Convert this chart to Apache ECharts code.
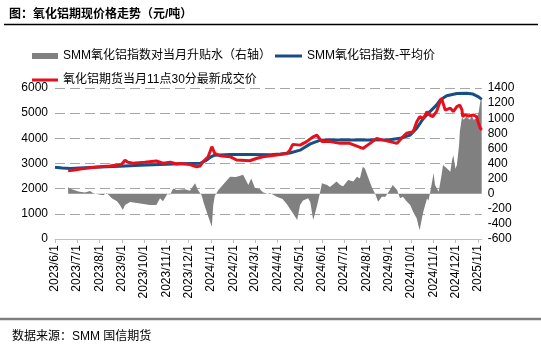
<!DOCTYPE html>
<html><head><meta charset="utf-8">
<script src="https://cdn.jsdelivr.net/npm/echarts@6/dist/echarts.min.js"></script>
<style>html,body{margin:0;padding:0;background:#fff}#c{width:541px;height:349px}</style>
</head><body><div id="c"></div>
<script>
// Axis range
const startDate = '2023/6/1';
const endDate = '2025/1/6';
const leftTicks = [0, 6000, 1000];
const rightTicks = [-600, 1400, 200];

const nameBasis = 'SMM氧化铝指数对当月升贴水（右轴）';
const nameIndex = 'SMM氧化铝指数-平均价';
const nameFut = '氧化铝期货当月11点30分最新成交价';

// SMM index average price
const indexDates = ['2023/6/1','2023/6/11','2023/6/22','2023/7/5','2023/8/2','2023/8/29','2023/9/26','2023/10/23','2023/11/19','2023/12/17','2023/12/24','2023/12/31','2024/1/6','2024/1/27','2024/2/23','2024/3/22','2024/4/5','2024/4/18','2024/5/2','2024/5/16','2024/5/29','2024/6/12','2024/7/9','2024/8/6','2024/9/2','2024/9/16','2024/9/30','2024/10/9','2024/10/18','2024/10/27','2024/11/5','2024/11/10','2024/11/19','2024/12/3','2024/12/16','2024/12/25','2025/1/1','2025/1/6'];
const indexValues = [2850,2820,2800,2820,2860,2890,2930,2960,2990,3010,3100,3250,3330,3360,3360,3350,3380,3420,3530,3780,3920,3930,3930,3930,3940,4000,4130,4400,4790,5060,5320,5520,5690,5780,5790,5760,5660,5550];

// Futures price at 11:30
const futDates = ['2023/6/19','2023/6/28','2023/7/8','2023/7/19','2023/8/2','2023/8/15','2023/8/31','2023/9/5','2023/9/9','2023/9/16','2023/10/2','2023/10/18','2023/10/27','2023/11/6','2023/11/15','2023/11/19','2023/12/3','2023/12/12','2023/12/17','2023/12/21','2023/12/28','2024/1/2','2024/1/6','2024/1/13','2024/1/27','2024/2/5','2024/2/23','2024/3/3','2024/3/12','2024/3/31','2024/4/14','2024/4/18','2024/4/22','2024/5/2','2024/5/11','2024/5/20','2024/5/25','2024/6/1','2024/6/12','2024/6/26','2024/7/9','2024/7/27','2024/8/6','2024/8/15','2024/8/24','2024/9/2','2024/9/12','2024/9/20','2024/9/25','2024/10/4','2024/10/9','2024/10/13','2024/10/18','2024/10/23','2024/10/27','2024/10/31','2024/11/5','2024/11/10','2024/11/12','2024/11/17','2024/11/24','2024/11/28','2024/12/3','2024/12/7','2024/12/10','2024/12/11','2024/12/14','2024/12/19','2024/12/21','2024/12/26','2024/12/30','2025/1/1','2025/1/4','2025/1/6'];
const futValues = [2710,2740,2790,2830,2870,2900,2960,3130,3050,3010,3050,3100,3010,3050,2980,3000,2960,2870,2900,3070,3270,3670,3400,3310,3270,3140,3110,3200,3270,3340,3400,3530,3760,3730,3870,4060,4130,3870,3870,3800,3800,3600,3800,4000,3930,3870,3800,4060,4200,4260,4660,4860,4790,5060,4920,4860,5060,5460,5590,5120,5200,5060,5260,5320,5120,4860,4930,4890,4860,4930,4860,4660,4400,4330];

// Basis: SMM index vs current-month contract (right axis)
const basisDates = ['2023/6/19','2023/6/24','2023/7/3','2023/7/12','2023/7/19','2023/7/23','2023/7/28','2023/8/6','2023/8/11','2023/8/18','2023/8/25','2023/8/29','2023/9/2','2023/9/5','2023/9/12','2023/9/26','2023/10/9','2023/10/18','2023/10/23','2023/10/27','2023/11/2','2023/11/6','2023/11/10','2023/11/15','2023/11/26','2023/12/3','2023/12/10','2023/12/14','2023/12/19','2023/12/22','2023/12/28','2024/1/2','2024/1/4','2024/1/6','2024/1/11','2024/1/17','2024/1/27','2024/2/4','2024/2/14','2024/2/21','2024/2/25','2024/3/1','2024/3/8','2024/3/12','2024/3/18','2024/3/22','2024/3/31','2024/4/8','2024/4/14','2024/4/18','2024/4/22','2024/4/28','2024/5/2','2024/5/6','2024/5/13','2024/5/16','2024/5/20','2024/5/25','2024/5/29','2024/6/1','2024/6/8','2024/6/12','2024/6/21','2024/6/26','2024/6/30','2024/7/7','2024/7/14','2024/7/19','2024/7/23','2024/7/27','2024/7/30','2024/8/3','2024/8/8','2024/8/13','2024/8/17','2024/8/22','2024/8/27','2024/9/2','2024/9/6','2024/9/12','2024/9/16','2024/9/20','2024/9/25','2024/9/30','2024/10/4','2024/10/9','2024/10/11','2024/10/13','2024/10/16','2024/10/18','2024/10/23','2024/10/25','2024/10/27','2024/10/30','2024/11/1','2024/11/3','2024/11/8','2024/11/12','2024/11/14','2024/11/19','2024/11/24','2024/11/26','2024/11/28','2024/12/1','2024/12/3','2024/12/5','2024/12/6','2024/12/7','2024/12/10','2024/12/12','2024/12/16','2024/12/21','2024/12/23','2024/12/26','2024/12/30','2025/1/2','2025/1/4','2025/1/6'];
const basisValues = [85,60,30,15,36,10,-5,-20,10,-61,-100,-150,-216,-150,-110,-130,-150,-150,-60,-100,-5,-10,70,50,60,40,137,50,-20,-125,-300,-437,-150,-30,50,115,225,220,250,115,200,78,60,20,0,10,-40,-70,-140,-200,-256,-348,-150,-90,-60,-110,-348,-170,0,137,115,90,160,115,100,181,160,225,200,358,330,225,95,-5,-106,-40,-40,48,115,50,-60,-40,-100,-150,-238,-327,-415,-480,-330,-240,-62,-90,0,159,270,115,25,248,380,336,292,424,512,330,380,556,645,821,1020,980,1020,980,1040,980,1000,1086,1219,1263];

// build daily category axis
function parse(s){const p=s.split('/').map(Number);return Date.UTC(p[0],p[1]-1,p[2]);}
function fmt(t){const d=new Date(t);return d.getUTCFullYear()+'/'+(d.getUTCMonth()+1)+'/'+d.getUTCDate();}
const cats=[];
for(let t=parse(startDate);t<=parse(endDate);t+=86400000) cats.push(fmt(t));
const idx={}; cats.forEach((c,i)=>idx[c]=i);
function toSeries(dates,vals){const a=new Array(cats.length).fill(null);dates.forEach((d,i)=>{a[idx[d]]=vals[i];});return a;}

const chart=echarts.init(document.getElementById('c'),null,{renderer:'canvas'});
const latin='"Liberation Sans", Arial, sans-serif';
const cjk='"Liberation Sans", "Noto Sans CJK SC", sans-serif';
const isFirst=(i,v)=>v.endsWith('/1');
const plain=v=>String(v);
chart.setOption({
  animation:false,
  backgroundColor:'#fff',
  title:[
    {text:'图：氧化铝期现价格走势（元/吨）',left:4,top:4,textStyle:{fontSize:12,fontWeight:'bold',color:'#000',fontFamily:cjk}},
    {text:'数据来源：SMM 国信期货',left:7,top:326,textStyle:{fontSize:12,fontWeight:'normal',color:'#000',fontFamily:cjk}}
  ],
  graphic:[
    {type:'line',shape:{x1:4,y1:24.5,x2:538,y2:24.5},style:{stroke:'#000',lineWidth:1.5}},
    {type:'line',shape:{x1:0,y1:319,x2:541,y2:319},style:{stroke:'#7f7f7f',lineWidth:2.5}}
  ],
  legend:[
    {data:[{name:nameBasis,icon:'rect'}],left:27,top:45,itemWidth:26,itemHeight:6,itemGap:0,textStyle:{fontSize:12,color:'#000',fontFamily:cjk}},
    {data:[{name:nameIndex,icon:'rect'}],left:270,top:45,itemWidth:27,itemHeight:3,textStyle:{fontSize:12,color:'#000',fontFamily:cjk}},
    {data:[{name:nameFut,icon:'rect'}],left:27,top:69,itemWidth:26,itemHeight:3,textStyle:{fontSize:12,color:'#000',fontFamily:cjk}}
  ],
  grid:{left:55,right:59.3,top:88,bottom:110,containLabel:false},
  xAxis:{type:'category',data:cats,boundaryGap:false,
    axisLine:{lineStyle:{color:'#bfbfbf',width:1}},
    axisTick:{interval:isFirst,length:4,lineStyle:{color:'#bfbfbf'}},
    axisLabel:{interval:isFirst,rotate:90,margin:6,fontSize:12,color:'#000',fontFamily:latin},
    splitLine:{show:false}},
  yAxis:[
    {type:'value',min:leftTicks[0],max:leftTicks[1],interval:leftTicks[2],
     axisLine:{show:false},axisTick:{show:false},
     axisLabel:{fontSize:12,color:'#000',margin:7,fontFamily:latin,formatter:plain},
     splitLine:{lineStyle:{color:'#a6a6a6',type:[10,5],width:1}}},
    {type:'value',min:rightTicks[0],max:rightTicks[1],interval:rightTicks[2],position:'right',
     axisLine:{show:false},axisTick:{show:false},
     axisLabel:{fontSize:12,color:'#000',margin:6,fontFamily:latin,formatter:plain},
     splitLine:{show:false}}
  ],
  series:[
    {name:nameBasis,type:'line',yAxisIndex:1,data:toSeries(basisDates,basisValues),connectNulls:true,
     symbol:'none',lineStyle:{width:0,color:'#808080'},itemStyle:{color:'#808080'},areaStyle:{color:'#808080',opacity:1,origin:0}},
    {name:nameIndex,type:'line',yAxisIndex:0,data:toSeries(indexDates,indexValues),connectNulls:true,
     symbol:'none',lineStyle:{width:3,color:'#174f85'},itemStyle:{color:'#174f85'}},
    {name:nameFut,type:'line',yAxisIndex:0,data:toSeries(futDates,futValues),connectNulls:true,
     symbol:'none',lineStyle:{width:3,color:'#e5101e'},itemStyle:{color:'#e5101e'}}
  ]
});
</script></body></html>
